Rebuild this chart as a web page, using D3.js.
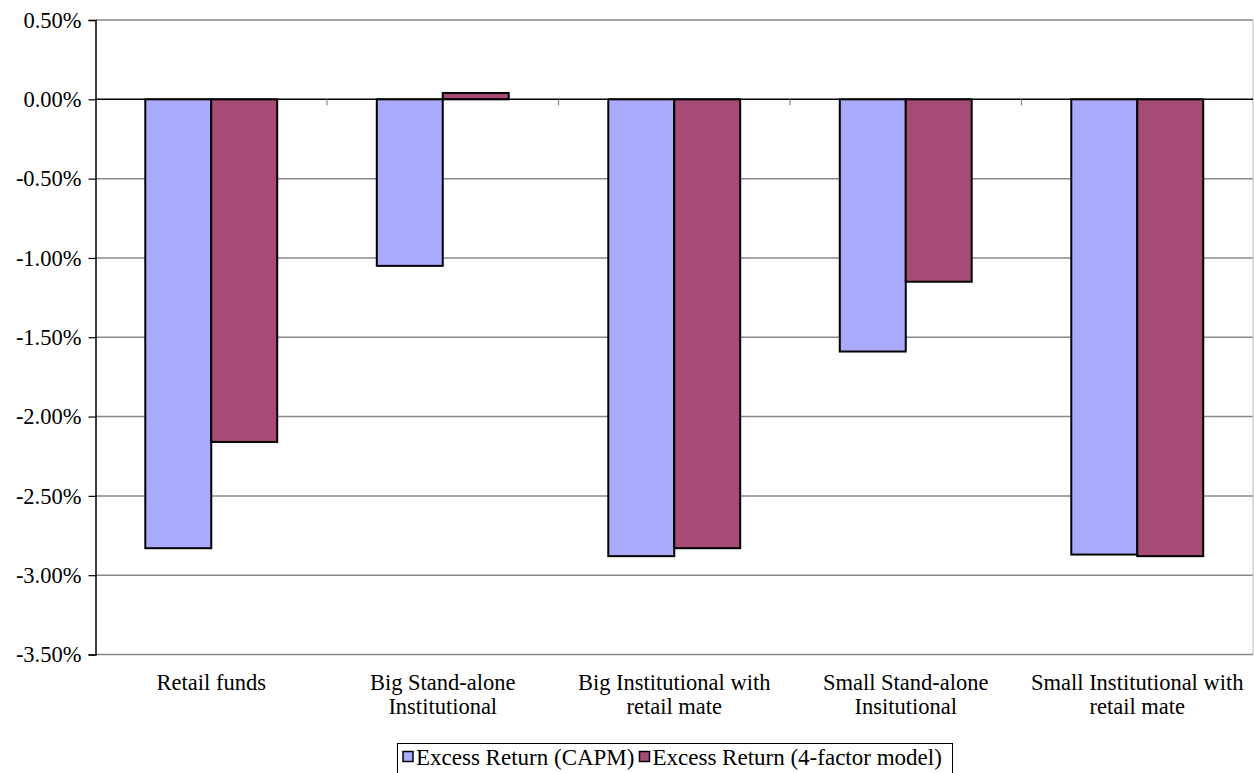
<!DOCTYPE html>
<html><head><meta charset="utf-8">
<script src="https://cdn.jsdelivr.net/npm/d3@7"></script>
<style>body{margin:0;background:#fff}svg{display:block}svg text{font-family:"Liberation Serif","Times New Roman",serif !important;fill:#000}</style>
</head><body><svg id="c" width="1254" height="773"></svg>
<script>
const categories = [["Retail funds"],["Big Stand-alone","Institutional"],["Big Institutional with","retail mate"],["Small Stand-alone","Insitutional"],["Small Institutional with","retail mate"]];
const seriesNames = ["Excess Return (CAPM)","Excess Return (4-factor model)"];
const capm = [-2.83,-1.05,-2.88,-1.59,-2.87];
const fourFactor = [-2.16,0.04,-2.83,-1.15,-2.88];
const yTicks = [0.5,0,-0.5,-1,-1.5,-2,-2.5,-3,-3.5];
const colors = ["#aaaaff","#a64a76"];

const svg = d3.select("#c");
const L=95.5, R=1253, T=20, B=654.5;
const x0 = d3.scaleBand().domain(d3.range(categories.length)).range([L,R]);
const x1 = d3.scaleBand().domain([0,1]).range([0,x0.bandwidth()]).paddingInner(0).paddingOuter(0.755);
const y = d3.scaleLinear().domain([-3.5,0.5]).range([B,T]);

// gridlines
svg.append("g").selectAll("line").data(yTicks.filter(d=>d!==0)).join("line")
  .attr("x1",L).attr("x2",R).attr("y1",d=>y(d)).attr("y2",d=>y(d))
  .attr("stroke","#888").attr("stroke-width",1.5);
svg.append("line").attr("x1",R).attr("x2",R).attr("y1",T).attr("y2",B).attr("stroke","#bbb").attr("stroke-width",1);

// y axis
const ya = svg.append("g").attr("transform",`translate(${L},0)`)
  .call(d3.axisLeft(y).tickValues(yTicks).tickSize(7).tickPadding(7).tickFormat(d=>d.toFixed(2)+"%"));
ya.select(".domain").attr("stroke","#000").attr("stroke-width",1.5);
ya.selectAll(".tick line").attr("stroke","#000").attr("stroke-width",1.2);
ya.selectAll(".tick text").style("font-size","22.5px");

// bars
const data = categories.map((c,i)=>[capm[i],fourFactor[i]]);
const g = svg.append("g").selectAll("g").data(data).join("g").attr("transform",(d,i)=>`translate(${x0(i)},0)`);
g.selectAll("rect").data(d=>d.map((v,k)=>({v,k}))).join("rect")
  .attr("x",d=>x1(d.k)).attr("width",x1.bandwidth())
  .attr("y",d=>y(Math.max(0,d.v))).attr("height",d=>Math.abs(y(d.v)-y(0)))
  .attr("fill",d=>colors[d.k]).attr("stroke","#000").attr("stroke-width",2);

// zero axis line with ticks
svg.append("line").attr("x1",L).attr("x2",R).attr("y1",y(0)).attr("y2",y(0)).attr("stroke","#000").attr("stroke-width",1.5);
svg.append("g").selectAll("line").data(d3.range(1,categories.length)).join("line")
  .attr("x1",i=>x0(i)).attr("x2",i=>x0(i)).attr("y1",y(0)).attr("y2",y(0)+6).attr("stroke","#888").attr("stroke-width",1.2);

// category labels
const cl = svg.append("g").selectAll("text").data(categories).join("text")
  .attr("x",(d,i)=>x0(i)+x0.bandwidth()/2).attr("y",690).attr("text-anchor","middle").style("font-size","22.5px");
cl.selectAll("tspan").data(d=>d).join("tspan").attr("x",function(){return this.parentNode.getAttribute("x");})
  .attr("dy",(d,i)=>i===0?0:24).text(d=>d);

// legend
const lg = svg.append("g");
lg.append("rect").attr("x",397.5).attr("y",743.5).attr("width",555).attr("height",32).attr("fill","#fff").attr("stroke","#000").attr("stroke-width",1);
let cx = 403;
seriesNames.forEach((n,k)=>{
  lg.append("rect").attr("x",cx).attr("y",751.5).attr("width",10).attr("height",10).attr("fill",colors[k]).attr("stroke","#000").attr("stroke-width",1.5);
  const t = lg.append("text").attr("x",cx+13).attr("y",765).style("font-size","23px").text(n);
  cx = cx + 13 + t.node().getComputedTextLength() + 5;
});
</script></body></html>
